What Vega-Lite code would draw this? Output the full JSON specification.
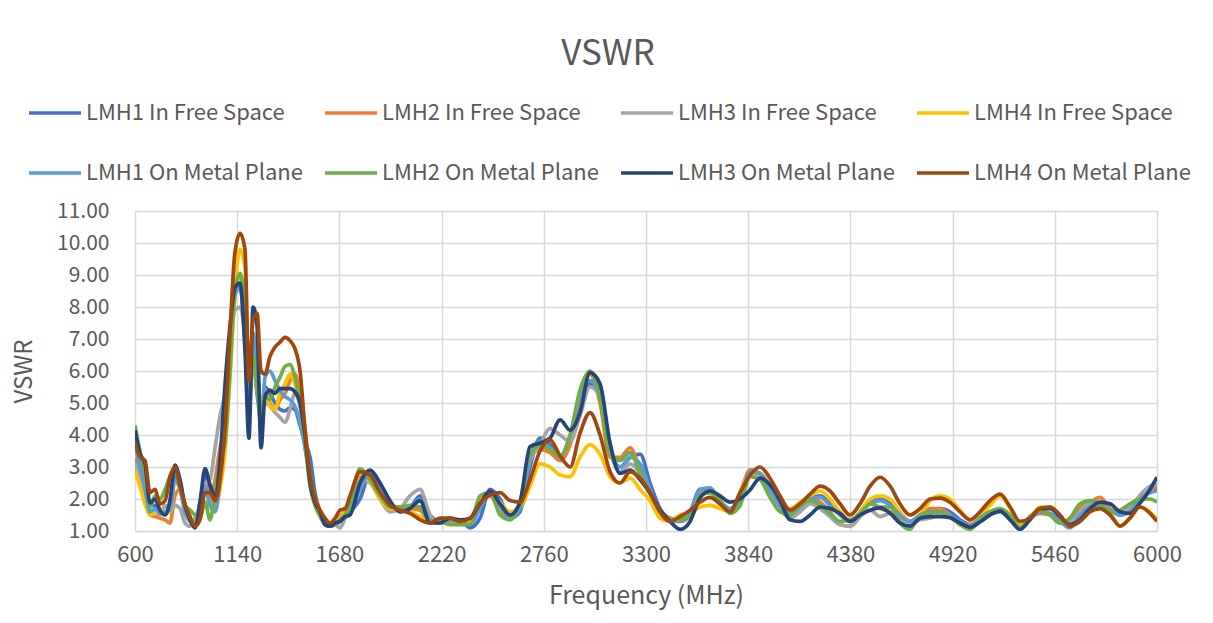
{
  "$schema": "https://vega.github.io/schema/vega-lite/v6.json",
  "width": 1022,
  "height": 320,
  "autosize": {"type": "none"},
  "padding": {"left": 135, "top": 211, "right": 56, "bottom": 92},
  "background": "white",
  "title": {"text": "VSWR", "fontSize": 35, "font": "Noto Sans CJK SC", "fontWeight": "normal", "color": "#595959", "anchor": "middle", "frame": "group", "dx": -38, "offset": 13},
  "data": {"values": [
    {"F":600,"s1":3.9,"s2":3.3,"s3":3.1,"s4":2.9,"s5":3.7,"s6":4.3,"s7":4.15,"s8":3.75},
    {"F":626,"s1":3.2,"s2":2.6,"s3":2.6,"s4":2.4,"s5":3.0,"s6":3.5,"s7":3.43,"s8":3.32},
    {"F":653,"s1":2.6,"s2":1.9,"s3":2.0,"s4":1.85,"s5":2.3,"s6":2.8,"s7":3.1,"s8":3.2},
    {"F":679,"s1":1.8,"s2":1.5,"s3":1.6,"s4":1.5,"s5":1.6,"s6":1.75,"s7":1.87,"s8":2.2},
    {"F":706,"s1":1.8,"s2":1.45,"s3":1.6,"s4":1.55,"s5":1.7,"s6":2.1,"s7":2.0,"s8":2.3},
    {"F":732,"s1":1.6,"s2":1.4,"s3":1.5,"s4":1.65,"s5":1.55,"s6":2.0,"s7":1.65,"s8":1.85},
    {"F":759,"s1":1.55,"s2":1.35,"s3":1.8,"s4":1.6,"s5":1.6,"s6":2.3,"s7":1.5,"s8":1.95},
    {"F":785,"s1":1.7,"s2":1.25,"s3":1.6,"s4":1.6,"s5":1.65,"s6":2.7,"s7":1.97,"s8":2.7},
    {"F":811,"s1":2.7,"s2":2.1,"s3":1.8,"s4":2.6,"s5":2.6,"s6":2.85,"s7":3.06,"s8":3.0},
    {"F":838,"s1":2.5,"s2":2.3,"s3":1.7,"s4":2.3,"s5":2.3,"s6":2.4,"s7":2.6,"s8":2.4},
    {"F":864,"s1":1.7,"s2":1.6,"s3":1.25,"s4":1.7,"s5":1.6,"s6":1.8,"s7":1.8,"s8":1.85},
    {"F":891,"s1":1.35,"s2":1.3,"s3":1.15,"s4":1.4,"s5":1.3,"s6":1.65,"s7":1.35,"s8":1.45},
    {"F":917,"s1":1.2,"s2":1.3,"s3":1.4,"s4":1.2,"s5":1.15,"s6":1.5,"s7":1.1,"s8":1.15},
    {"F":943,"s1":1.9,"s2":1.7,"s3":1.8,"s4":1.6,"s5":1.7,"s6":1.4,"s7":1.87,"s8":1.35},
    {"F":970,"s1":2.7,"s2":2.5,"s3":2.5,"s4":2.3,"s5":2.4,"s6":1.9,"s7":2.95,"s8":2.2},
    {"F":996,"s1":2.3,"s2":2.0,"s3":2.6,"s4":1.9,"s5":1.8,"s6":1.35,"s7":2.45,"s8":2.2},
    {"F":1023,"s1":1.8,"s2":2.6,"s3":3.6,"s4":1.7,"s5":1.6,"s6":2.2,"s7":2.1,"s8":1.95},
    {"F":1049,"s1":2.8,"s2":3.6,"s3":4.6,"s4":2.3,"s5":2.6,"s6":3.2,"s7":3.2,"s8":2.6},
    {"F":1076,"s1":5.0,"s2":4.3,"s3":5.3,"s4":3.5,"s5":4.6,"s6":3.8,"s7":5.6,"s8":4.25},
    {"F":1102,"s1":7.0,"s2":6.3,"s3":6.8,"s4":5.8,"s5":6.8,"s6":6.0,"s7":7.4,"s8":7.2},
    {"F":1128,"s1":8.5,"s2":8.3,"s3":7.9,"s4":8.5,"s5":8.4,"s6":8.5,"s7":8.6,"s8":9.7},
    {"F":1155,"s1":8.6,"s2":9.0,"s3":8.0,"s4":9.8,"s5":8.6,"s6":9.05,"s7":8.75,"s8":10.3},
    {"F":1181,"s1":7.0,"s2":8.0,"s3":7.0,"s4":9.2,"s5":7.2,"s6":8.0,"s7":6.65,"s8":9.8},
    {"F":1202,"s1":4.5,"s2":5.2,"s3":5.0,"s4":6.0,"s5":5.0,"s6":5.0,"s7":3.9,"s8":5.7},
    {"F":1224,"s1":7.0,"s2":6.8,"s3":6.3,"s4":6.8,"s5":7.2,"s6":6.5,"s7":8.0,"s8":7.6},
    {"F":1245,"s1":6.3,"s2":5.5,"s3":5.3,"s4":5.8,"s5":5.8,"s6":5.3,"s7":7.4,"s8":7.8},
    {"F":1266,"s1":4.5,"s2":4.7,"s3":4.7,"s4":5.0,"s5":4.2,"s6":4.5,"s7":3.6,"s8":6.0},
    {"F":1287,"s1":5.5,"s2":5.35,"s3":5.0,"s4":5.4,"s5":5.8,"s6":5.2,"s7":5.2,"s8":5.9},
    {"F":1313,"s1":5.3,"s2":5.0,"s3":4.9,"s4":4.9,"s5":6.0,"s6":5.1,"s7":5.4,"s8":6.45},
    {"F":1340,"s1":5.0,"s2":4.8,"s3":4.7,"s4":4.8,"s5":5.7,"s6":5.5,"s7":5.3,"s8":6.75},
    {"F":1366,"s1":4.8,"s2":5.1,"s3":4.55,"s4":5.3,"s5":5.4,"s6":5.8,"s7":5.45,"s8":6.9},
    {"F":1393,"s1":4.75,"s2":5.3,"s3":4.4,"s4":5.6,"s5":5.2,"s6":6.15,"s7":5.45,"s8":7.05},
    {"F":1419,"s1":4.85,"s2":5.7,"s3":4.8,"s4":5.9,"s5":5.1,"s6":6.2,"s7":5.45,"s8":6.95},
    {"F":1445,"s1":4.8,"s2":5.9,"s3":5.3,"s4":5.6,"s5":4.9,"s6":5.8,"s7":5.35,"s8":6.7},
    {"F":1472,"s1":4.3,"s2":5.3,"s3":4.9,"s4":5.0,"s5":4.4,"s6":5.0,"s7":5.0,"s8":6.0},
    {"F":1498,"s1":3.8,"s2":4.2,"s3":3.8,"s4":3.9,"s5":3.6,"s6":3.8,"s7":4.0,"s8":4.2},
    {"F":1525,"s1":3.3,"s2":2.7,"s3":2.6,"s4":2.6,"s5":2.7,"s6":2.4,"s7":2.5,"s8":2.7},
    {"F":1551,"s1":2.2,"s2":2.0,"s3":1.9,"s4":2.0,"s5":2.0,"s6":1.8,"s7":1.9,"s8":2.0},
    {"F":1578,"s1":1.6,"s2":1.6,"s3":1.55,"s4":1.6,"s5":1.55,"s6":1.45,"s7":1.6,"s8":1.65},
    {"F":1604,"s1":1.3,"s2":1.35,"s3":1.3,"s4":1.35,"s5":1.3,"s6":1.2,"s7":1.2,"s8":1.4},
    {"F":1630,"s1":1.2,"s2":1.25,"s3":1.15,"s4":1.25,"s5":1.15,"s6":1.15,"s7":1.15,"s8":1.25},
    {"F":1657,"s1":1.3,"s2":1.3,"s3":1.2,"s4":1.3,"s5":1.2,"s6":1.2,"s7":1.25,"s8":1.4},
    {"F":1683,"s1":1.35,"s2":1.45,"s3":1.1,"s4":1.4,"s5":1.3,"s6":1.35,"s7":1.3,"s8":1.65},
    {"F":1710,"s1":1.45,"s2":1.6,"s3":1.4,"s4":1.6,"s5":1.45,"s6":1.5,"s7":1.45,"s8":1.7},
    {"F":1736,"s1":1.6,"s2":1.8,"s3":1.8,"s4":2.0,"s5":1.6,"s6":1.8,"s7":1.5,"s8":2.1},
    {"F":1789,"s1":2.0,"s2":2.7,"s3":2.6,"s4":2.8,"s5":2.3,"s6":2.95,"s7":2.5,"s8":2.85},
    {"F":1842,"s1":2.8,"s2":2.7,"s3":2.5,"s4":2.55,"s5":2.8,"s6":2.6,"s7":2.9,"s8":2.75},
    {"F":1895,"s1":2.3,"s2":2.1,"s3":2.0,"s4":2.0,"s5":2.35,"s6":2.1,"s7":2.5,"s8":2.2},
    {"F":1947,"s1":1.85,"s2":1.75,"s3":1.6,"s4":1.7,"s5":1.85,"s6":1.75,"s7":1.95,"s8":1.8},
    {"F":2000,"s1":1.7,"s2":1.75,"s3":1.7,"s4":1.7,"s5":1.7,"s6":1.75,"s7":1.6,"s8":1.65},
    {"F":2053,"s1":1.75,"s2":1.7,"s3":2.1,"s4":1.6,"s5":1.75,"s6":1.8,"s7":1.7,"s8":1.55},
    {"F":2106,"s1":2.1,"s2":1.65,"s3":2.3,"s4":1.45,"s5":2.0,"s6":1.75,"s7":1.95,"s8":1.35},
    {"F":2159,"s1":1.5,"s2":1.3,"s3":1.5,"s4":1.3,"s5":1.35,"s6":1.3,"s7":1.25,"s8":1.25},
    {"F":2212,"s1":1.3,"s2":1.3,"s3":1.25,"s4":1.3,"s5":1.25,"s6":1.3,"s7":1.25,"s8":1.4},
    {"F":2264,"s1":1.35,"s2":1.3,"s3":1.25,"s4":1.35,"s5":1.35,"s6":1.2,"s7":1.4,"s8":1.4},
    {"F":2317,"s1":1.35,"s2":1.25,"s3":1.3,"s4":1.3,"s5":1.3,"s6":1.2,"s7":1.35,"s8":1.3},
    {"F":2370,"s1":1.1,"s2":1.3,"s3":1.35,"s4":1.3,"s5":1.2,"s6":1.2,"s7":1.4,"s8":1.4},
    {"F":2423,"s1":1.4,"s2":2.0,"s3":2.0,"s4":1.95,"s5":1.7,"s6":2.1,"s7":1.85,"s8":1.87},
    {"F":2476,"s1":2.3,"s2":2.1,"s3":2.2,"s4":2.15,"s5":2.2,"s6":2.2,"s7":2.25,"s8":2.12},
    {"F":2529,"s1":2.0,"s2":1.6,"s3":1.7,"s4":1.9,"s5":1.8,"s6":1.5,"s7":1.85,"s8":2.2},
    {"F":2582,"s1":1.4,"s2":1.4,"s3":1.55,"s4":1.6,"s5":1.4,"s6":1.35,"s7":1.5,"s8":1.95},
    {"F":2634,"s1":1.6,"s2":1.85,"s3":1.9,"s4":1.7,"s5":1.7,"s6":1.9,"s7":1.9,"s8":1.9},
    {"F":2687,"s1":3.0,"s2":3.3,"s3":3.2,"s4":2.4,"s5":3.3,"s6":3.4,"s7":3.63,"s8":2.6},
    {"F":2740,"s1":3.9,"s2":3.55,"s3":3.7,"s4":3.1,"s5":3.8,"s6":3.65,"s7":3.75,"s8":3.5},
    {"F":2793,"s1":3.7,"s2":3.45,"s3":4.2,"s4":3.0,"s5":3.6,"s6":3.55,"s7":3.9,"s8":3.85},
    {"F":2846,"s1":3.3,"s2":3.2,"s3":4.0,"s4":2.75,"s5":3.3,"s6":3.35,"s7":4.47,"s8":3.35},
    {"F":2899,"s1":3.8,"s2":3.7,"s3":3.8,"s4":2.7,"s5":4.0,"s6":4.0,"s7":4.15,"s8":3.0},
    {"F":2951,"s1":5.0,"s2":5.0,"s3":4.6,"s4":3.3,"s5":5.2,"s6":5.4,"s7":4.7,"s8":4.05},
    {"F":3004,"s1":5.6,"s2":5.9,"s3":5.5,"s4":3.7,"s5":5.7,"s6":6.0,"s7":5.95,"s8":4.7},
    {"F":3057,"s1":5.4,"s2":5.0,"s3":5.2,"s4":3.4,"s5":5.2,"s6":5.2,"s7":5.6,"s8":4.0},
    {"F":3110,"s1":3.6,"s2":3.3,"s3":3.5,"s4":2.7,"s5":3.5,"s6":3.4,"s7":3.75,"s8":2.85},
    {"F":3163,"s1":3.0,"s2":3.3,"s3":2.85,"s4":2.5,"s5":3.0,"s6":3.2,"s7":2.8,"s8":2.5},
    {"F":3216,"s1":3.3,"s2":3.6,"s3":3.1,"s4":2.65,"s5":3.3,"s6":3.45,"s7":2.9,"s8":2.85},
    {"F":3269,"s1":3.4,"s2":2.9,"s3":2.8,"s4":2.3,"s5":3.1,"s6":2.8,"s7":2.6,"s8":2.65},
    {"F":3321,"s1":2.5,"s2":2.2,"s3":2.2,"s4":1.95,"s5":2.3,"s6":2.2,"s7":2.18,"s8":2.2},
    {"F":3374,"s1":1.7,"s2":1.6,"s3":1.6,"s4":1.4,"s5":1.6,"s6":1.6,"s7":1.65,"s8":1.6},
    {"F":3427,"s1":1.4,"s2":1.4,"s3":1.3,"s4":1.3,"s5":1.35,"s6":1.35,"s7":1.3,"s8":1.3},
    {"F":3480,"s1":1.35,"s2":1.35,"s3":1.3,"s4":1.5,"s5":1.3,"s6":1.35,"s7":1.05,"s8":1.45},
    {"F":3533,"s1":1.6,"s2":1.55,"s3":1.45,"s4":1.55,"s5":1.55,"s6":1.45,"s7":1.3,"s8":1.65},
    {"F":3585,"s1":2.3,"s2":2.2,"s3":2.1,"s4":1.75,"s5":2.3,"s6":2.1,"s7":2.03,"s8":1.9},
    {"F":3638,"s1":2.3,"s2":2.2,"s3":2.25,"s4":1.8,"s5":2.35,"s6":2.2,"s7":2.25,"s8":2.05},
    {"F":3691,"s1":1.9,"s2":1.85,"s3":1.9,"s4":1.7,"s5":1.95,"s6":1.95,"s7":2.1,"s8":1.85},
    {"F":3744,"s1":1.65,"s2":1.6,"s3":1.6,"s4":1.6,"s5":1.7,"s6":1.55,"s7":1.9,"s8":1.6},
    {"F":3797,"s1":2.1,"s2":2.2,"s3":2.0,"s4":2.2,"s5":2.0,"s6":1.8,"s7":2.0,"s8":2.2},
    {"F":3850,"s1":2.9,"s2":2.9,"s3":2.8,"s4":2.8,"s5":2.85,"s6":2.7,"s7":2.28,"s8":2.75},
    {"F":3903,"s1":2.75,"s2":2.8,"s3":2.75,"s4":2.8,"s5":2.8,"s6":2.6,"s7":2.65,"s8":3.0},
    {"F":3955,"s1":2.3,"s2":2.2,"s3":2.25,"s4":2.4,"s5":2.3,"s6":2.05,"s7":2.45,"s8":2.65},
    {"F":4008,"s1":1.8,"s2":1.65,"s3":1.7,"s4":1.9,"s5":1.8,"s6":1.6,"s7":1.95,"s8":2.1},
    {"F":4061,"s1":1.6,"s2":1.5,"s3":1.4,"s4":1.7,"s5":1.55,"s6":1.5,"s7":1.35,"s8":1.65},
    {"F":4114,"s1":1.8,"s2":1.75,"s3":1.6,"s4":1.9,"s5":1.75,"s6":1.8,"s7":1.3,"s8":1.85},
    {"F":4167,"s1":2.0,"s2":2.05,"s3":1.85,"s4":2.1,"s5":2.0,"s6":1.95,"s7":1.5,"s8":2.15},
    {"F":4220,"s1":2.1,"s2":1.9,"s3":1.7,"s4":2.25,"s5":2.05,"s6":1.8,"s7":1.75,"s8":2.4},
    {"F":4272,"s1":1.85,"s2":1.6,"s3":1.45,"s4":2.0,"s5":1.8,"s6":1.55,"s7":1.7,"s8":2.25},
    {"F":4325,"s1":1.5,"s2":1.2,"s3":1.2,"s4":1.6,"s5":1.5,"s6":1.3,"s7":1.55,"s8":1.85},
    {"F":4378,"s1":1.3,"s2":1.15,"s3":1.15,"s4":1.35,"s5":1.3,"s6":1.35,"s7":1.3,"s8":1.5},
    {"F":4431,"s1":1.6,"s2":1.45,"s3":1.45,"s4":1.6,"s5":1.55,"s6":1.5,"s7":1.5,"s8":1.85},
    {"F":4484,"s1":1.95,"s2":1.9,"s3":1.65,"s4":2.0,"s5":1.85,"s6":1.85,"s7":1.65,"s8":2.4},
    {"F":4537,"s1":2.0,"s2":1.7,"s3":1.45,"s4":2.1,"s5":1.95,"s6":1.75,"s7":1.72,"s8":2.68},
    {"F":4590,"s1":1.85,"s2":1.6,"s3":1.55,"s4":2.0,"s5":1.8,"s6":1.75,"s7":1.55,"s8":2.4},
    {"F":4642,"s1":1.55,"s2":1.4,"s3":1.3,"s4":1.6,"s5":1.5,"s6":1.25,"s7":1.25,"s8":1.85},
    {"F":4695,"s1":1.3,"s2":1.25,"s3":1.2,"s4":1.3,"s5":1.3,"s6":1.05,"s7":1.15,"s8":1.5},
    {"F":4748,"s1":1.45,"s2":1.5,"s3":1.35,"s4":1.5,"s5":1.5,"s6":1.5,"s7":1.4,"s8":1.7},
    {"F":4801,"s1":1.65,"s2":1.7,"s3":1.4,"s4":1.95,"s5":1.6,"s6":1.55,"s7":1.45,"s8":2.0},
    {"F":4854,"s1":1.7,"s2":1.7,"s3":1.5,"s4":2.1,"s5":1.6,"s6":1.6,"s7":1.45,"s8":2.03},
    {"F":4906,"s1":1.6,"s2":1.5,"s3":1.45,"s4":2.0,"s5":1.5,"s6":1.45,"s7":1.42,"s8":1.9},
    {"F":4959,"s1":1.35,"s2":1.25,"s3":1.25,"s4":1.65,"s5":1.3,"s6":1.2,"s7":1.25,"s8":1.6},
    {"F":5012,"s1":1.2,"s2":1.2,"s3":1.15,"s4":1.35,"s5":1.15,"s6":1.05,"s7":1.12,"s8":1.35},
    {"F":5065,"s1":1.35,"s2":1.4,"s3":1.35,"s4":1.5,"s5":1.4,"s6":1.35,"s7":1.28,"s8":1.6},
    {"F":5118,"s1":1.55,"s2":1.6,"s3":1.55,"s4":1.8,"s5":1.6,"s6":1.6,"s7":1.5,"s8":1.95},
    {"F":5171,"s1":1.6,"s2":1.65,"s3":1.6,"s4":2.1,"s5":1.65,"s6":1.7,"s7":1.62,"s8":2.15},
    {"F":5224,"s1":1.4,"s2":1.45,"s3":1.4,"s4":1.7,"s5":1.4,"s6":1.5,"s7":1.35,"s8":1.75},
    {"F":5276,"s1":1.05,"s2":1.1,"s3":1.15,"s4":1.2,"s5":1.1,"s6":1.1,"s7":1.05,"s8":1.3},
    {"F":5329,"s1":1.45,"s2":1.4,"s3":1.4,"s4":1.4,"s5":1.4,"s6":1.45,"s7":1.35,"s8":1.4},
    {"F":5382,"s1":1.6,"s2":1.55,"s3":1.6,"s4":1.75,"s5":1.6,"s6":1.65,"s7":1.7,"s8":1.7},
    {"F":5435,"s1":1.55,"s2":1.5,"s3":1.55,"s4":1.75,"s5":1.55,"s6":1.5,"s7":1.7,"s8":1.75},
    {"F":5488,"s1":1.3,"s2":1.25,"s3":1.3,"s4":1.45,"s5":1.3,"s6":1.25,"s7":1.45,"s8":1.5},
    {"F":5540,"s1":1.15,"s2":1.25,"s3":1.3,"s4":1.15,"s5":1.1,"s6":1.4,"s7":1.2,"s8":1.15},
    {"F":5593,"s1":1.55,"s2":1.75,"s3":1.6,"s4":1.35,"s5":1.5,"s6":1.85,"s7":1.35,"s8":1.3},
    {"F":5646,"s1":1.75,"s2":1.9,"s3":1.85,"s4":1.65,"s5":1.75,"s6":1.95,"s7":1.7,"s8":1.6},
    {"F":5699,"s1":1.85,"s2":2.05,"s3":1.8,"s4":1.75,"s5":1.8,"s6":1.85,"s7":1.9,"s8":1.7},
    {"F":5752,"s1":1.65,"s2":1.7,"s3":1.6,"s4":1.55,"s5":1.65,"s6":1.6,"s7":1.85,"s8":1.5},
    {"F":5805,"s1":1.5,"s2":1.55,"s3":1.55,"s4":1.15,"s5":1.5,"s6":1.65,"s7":1.6,"s8":1.15},
    {"F":5857,"s1":1.65,"s2":1.7,"s3":1.75,"s4":1.4,"s5":1.6,"s6":1.85,"s7":1.55,"s8":1.4},
    {"F":5910,"s1":2.1,"s2":2.0,"s3":2.1,"s4":1.75,"s5":2.0,"s6":2.0,"s7":1.87,"s8":1.75},
    {"F":5963,"s1":2.35,"s2":2.3,"s3":2.4,"s4":1.6,"s5":2.2,"s6":2.0,"s7":2.3,"s8":1.55},
    {"F":6000,"s1":2.3,"s2":2.4,"s3":2.45,"s4":1.35,"s5":2.25,"s6":1.9,"s7":2.68,"s8":1.3}
  ]},
  "transform": [
    {"fold": ["s1","s2","s3","s4","s5","s6","s7","s8"], "as": ["series","v"]}
  ],
  "mark": {"type": "line", "interpolate": "monotone", "strokeWidth": 3.7, "clip": true},
  "encoding": {
    "x": {"field": "F", "type": "quantitative", "title": "Frequency (MHz)",
      "scale": {"domain": [600, 6000], "nice": false, "zero": false},
      "axis": {"values": [600,1140,1680,2220,2760,3300,3840,4380,4920,5460,6000], "format": "d", "labelFlush": false, "labelBound": false, "labelOverlap": false, "labelFontSize": 22, "labelColor": "#595959", "labelPadding": 13, "titleFontSize": 25, "titleColor": "#595959", "titlePadding": 18, "titleFontWeight": "normal", "ticks": false, "domain": true, "domainColor": "#D9D9D9", "domainWidth": 1.5, "grid": true, "gridColor": "#D9D9D9", "gridWidth": 1.5, "labelFont": "Noto Sans CJK SC", "titleFont": "Noto Sans CJK SC"}},
    "y": {"field": "v", "type": "quantitative", "title": "VSWR",
      "scale": {"domain": [1, 11], "nice": false, "zero": false},
      "axis": {"values": [1,2,3,4,5,6,7,8,9,10,11], "format": ".2f", "labelFlush": false, "labelBound": false, "labelOverlap": false, "labelFontSize": 21, "labelColor": "#595959", "labelPadding": 26, "titleFontSize": 24, "titleColor": "#595959", "titlePadding": 20, "titleFontWeight": "normal", "ticks": false, "domain": false, "grid": true, "gridColor": "#D9D9D9", "gridWidth": 1.5, "labelFont": "Noto Sans CJK SC", "titleFont": "Noto Sans CJK SC"}},
    "color": {"field": "series", "type": "nominal",
      "scale": {"domain": ["s1","s2","s3","s4","s5","s6","s7","s8"], "range": ["#4472C4","#ED7D31","#A5A5A5","#FFC000","#5B9BD5","#70AD47","#264478","#9E480E"]},
      "legend": {"title": null, "orient": "none", "legendX": -108, "legendY": -126, "columns": 4, "direction": "horizontal", "symbolType": "stroke", "symbolSize": 2704, "symbolStrokeWidth": 3.7, "labelFontSize": 22, "labelFont": "Noto Sans CJK SC", "labelColor": "#595959", "labelOffset": 3, "labelLimit": 400, "columnPadding": 14, "rowPadding": 21, "gridAlign": "all",
        "labelExpr": "{'s1':'LMH1 In Free Space','s2':'LMH2 In Free Space','s3':'LMH3 In Free Space','s4':'LMH4 In Free Space','s5':'LMH1 On Metal Plane','s6':'LMH2 On Metal Plane','s7':'LMH3 On Metal Plane','s8':'LMH4 On Metal Plane'}[datum.label]"}}
  },
  "config": {"view": {"stroke": null}}
}
